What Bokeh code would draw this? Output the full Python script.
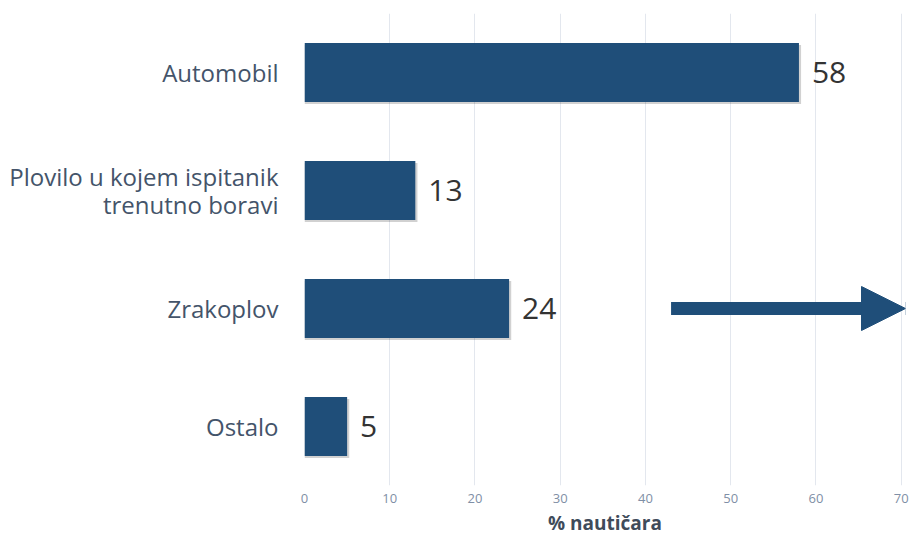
from bokeh.plotting import figure
from bokeh.models import ColumnDataSource, FactorRange, Range1d, Arrow, NormalHead, FixedTicker
from bokeh.transform import dodge
from bokeh.core.properties import value
from bokeh.embed import file_html
from bokeh.resources import INLINE

categories = ["Automobil", "Plovilo u kojem ispitanik\ntrenutno boravi", "Zrakoplov", "Ostalo"]
values = [58, 13, 24, 5]
value_labels = ["58", "13", "24", "5"]
x_ticks = [0, 10, 20, 30, 40, 50, 60, 70]
arrow_category = ["Zrakoplov"]
arrow_start = [43]
arrow_end = [70.5]

BAR = "#1F4E79"
FONT = "Open Sans"

src = ColumnDataSource(dict(cat=categories, val=values, lab=value_labels,
                            shadow=[v + 0.25 for v in values]))

p = figure(width=910, height=538, output_backend="svg", toolbar_location=None,
           y_range=FactorRange(factors=categories[::-1]),
           x_range=Range1d(0, 70.5),
           min_border_left=304, min_border_right=5, min_border_top=13, min_border_bottom=48)

p.outline_line_color = None
p.background_fill_color = "white"

# shadow
p.hbar(y=dodge("cat", -0.018, range=p.y_range), right="shadow", left=0, height=0.5,
       source=src, fill_color="#000000", fill_alpha=0.18, line_color=None)
p.hbar(y="cat", right="val", left=0, height=0.5, source=src,
       fill_color=BAR, line_color=None)

p.text(x="val", y="cat", text="lab", source=src, x_offset=13,
       text_baseline="middle", text_align="left", text_font=value(FONT),
       text_font_size="30px", text_color="#333333")

asrc = ColumnDataSource(dict(y=arrow_category, x0=arrow_start, x1=arrow_end))
p.add_layout(Arrow(x_start="x0", y_start="y", x_end="x1", y_end="y", source=asrc,
                   line_color=BAR, line_width=13,
                   end=NormalHead(size=44, fill_color=BAR, line_color=BAR, line_width=1)))

p.ygrid.grid_line_color = None
p.xgrid.grid_line_color = "#E3E7EE"
p.xgrid.grid_line_width = 1
p.xaxis.ticker = FixedTicker(ticks=x_ticks)

p.xaxis.axis_line_color = None
p.xaxis.major_tick_line_color = None
p.xaxis.minor_tick_line_color = None
p.xaxis.major_tick_out = 0
p.xaxis.major_tick_in = 0
p.xaxis.minor_tick_out = 0
p.xaxis.major_label_standoff = 8
p.xaxis.major_label_text_font = FONT
p.xaxis.major_label_text_font_size = "13px"
p.xaxis.major_label_text_line_height = 1.0
p.xaxis.major_label_text_color = "#7F8FA6"
p.xaxis.axis_label = "% nautičara"
p.xaxis.axis_label_text_font = FONT
p.xaxis.axis_label_text_font_size = "19px"
p.xaxis.axis_label_text_line_height = 1.0
p.xaxis.axis_label_text_font_style = "bold"
p.xaxis.axis_label_text_color = "#404B5A"
p.xaxis.axis_label_standoff = 4

p.yaxis.axis_line_color = None
p.yaxis.major_tick_line_color = None
p.yaxis.minor_tick_line_color = None
p.yaxis.major_tick_out = 0
p.yaxis.major_tick_in = 0
p.yaxis.minor_tick_out = 0
p.yaxis.major_label_standoff = 26
p.yaxis.major_label_text_font = FONT
p.yaxis.major_label_text_font_size = "24px"
p.yaxis.major_label_text_line_height = 0.85
p.yaxis.major_label_text_color = "#44546A"

open("out.html", "w").write(file_html(p, INLINE))
